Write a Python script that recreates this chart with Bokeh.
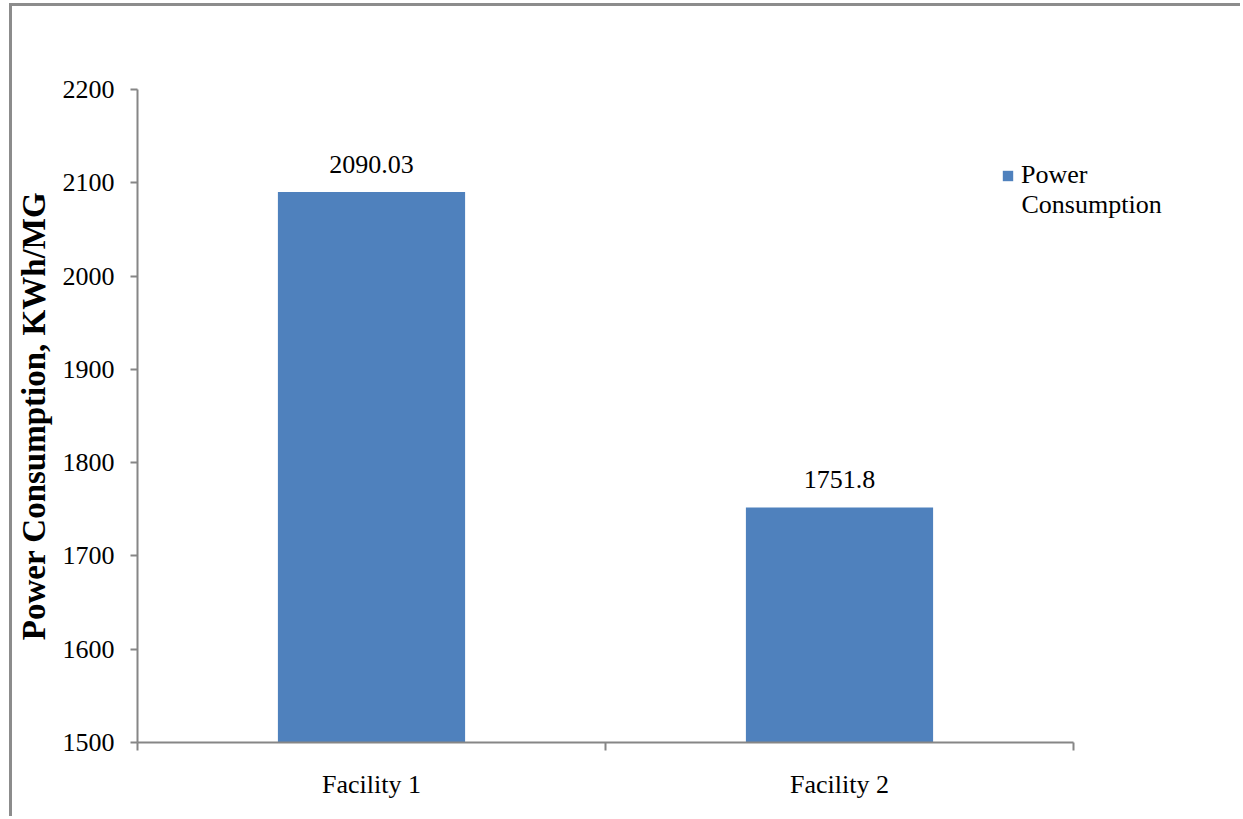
from bokeh.plotting import figure
from bokeh.models import (ColumnDataSource, FixedTicker, Range1d, Legend, LegendItem, Label)
from bokeh.core.properties import value
from bokeh.embed import file_html
from bokeh.resources import INLINE

# ---- data ----
categories = ["Facility 1", "Facility 2"]
consumption = [2090.03, 1751.8]
value_labels = ["2090.03", "1751.8"]
y_ticks = [1500, 1600, 1700, 1800, 1900, 2000, 2100, 2200]
series_name = "Power Consumption"
y_title = "Power Consumption, KWh/MG"

BAR = "#4F81BD"
AXIS = "#868686"
FONT = "Liberation Serif"

n = len(categories)
centers = [i + 0.5 for i in range(n)]
src = ColumnDataSource(dict(x=centers, top=consumption, lab=value_labels))

# the frame extends past the category axis to leave room for the legend
p = figure(width=1231, height=813, output_backend="svg", toolbar_location=None,
           x_range=Range1d(0, n * 1.125), y_range=Range1d(y_ticks[0], y_ticks[-1]),
           min_border_left=124, min_border_right=53, min_border_top=83,
           min_border_bottom=77)
p.margin = (3, 0, 0, 9)
p.styles = {"border-left": "3px solid #8c8c8c", "border-top": "3px solid #8c8c8c"}
p.outline_line_color = None
p.grid.visible = False
p.background_fill_color = "white"
p.border_fill_color = "white"

bars = p.vbar(x="x", top="top", bottom=y_ticks[0], width=0.4, source=src,
              fill_color=BAR, line_color=None)

p.text(x="x", y="top", text="lab", source=src, text_align="center",
       text_baseline="alphabetic", y_offset=-28, text_font=value(FONT),
       text_font_size="26px", text_color="black")

# y axis
ya = p.yaxis[0]
ya.ticker = FixedTicker(ticks=y_ticks, minor_ticks=[])
ya.axis_line_color = AXIS
ya.axis_line_width = 2
ya.major_tick_line_color = AXIS
ya.major_tick_line_width = 2
ya.major_tick_out = 7
ya.major_tick_in = 0
ya.minor_tick_out = 0
ya.minor_tick_in = 0
ya.major_label_standoff = 16
ya.major_label_text_font = FONT
ya.major_label_text_font_size = "26px"
ya.major_label_text_color = "black"
ya.axis_label = y_title
ya.axis_label_text_font = FONT
ya.axis_label_text_font_size = "33px"
ya.axis_label_text_font_style = "bold"
ya.axis_label_text_color = "black"
ya.axis_label_standoff = 8

# x axis: labels at category centers, tick marks at category boundaries
xa = p.xaxis[0]
xa.bounds = (0, n)
xa.ticker = FixedTicker(ticks=centers, minor_ticks=list(range(n + 1)))
xa.major_label_overrides = {c: name for c, name in zip(centers, categories)}
xa.axis_line_color = AXIS
xa.axis_line_width = 2
xa.major_tick_out = 0
xa.major_tick_in = 0
xa.minor_tick_line_color = AXIS
xa.minor_tick_line_width = 2
xa.minor_tick_out = 8
xa.minor_tick_in = 0
xa.major_label_standoff = 19
xa.major_label_text_font = FONT
xa.major_label_text_font_size = "26px"
xa.major_label_text_color = "black"

# legend: the series name wraps onto two lines, key aligned with the first
first_word, rest = series_name.split(" ", 1)
legend = Legend(items=[LegendItem(label=first_word, renderers=[bars])],
                location=(864, 552), padding=0, margin=0, spacing=0,
                glyph_width=13, glyph_height=13, label_standoff=7,
                label_text_font=FONT, label_text_font_size="26px",
                label_text_color="black", label_text_line_height=1.2,
                border_line_color=None, background_fill_alpha=0)
p.add_layout(legend, "center")
p.add_layout(Label(x=884, y=538, x_units="screen", y_units="screen", text=rest,
                   text_font=FONT, text_font_size="26px", text_color="black",
                   text_baseline="alphabetic"))

open("out.html", "w").write(file_html(p, INLINE))
